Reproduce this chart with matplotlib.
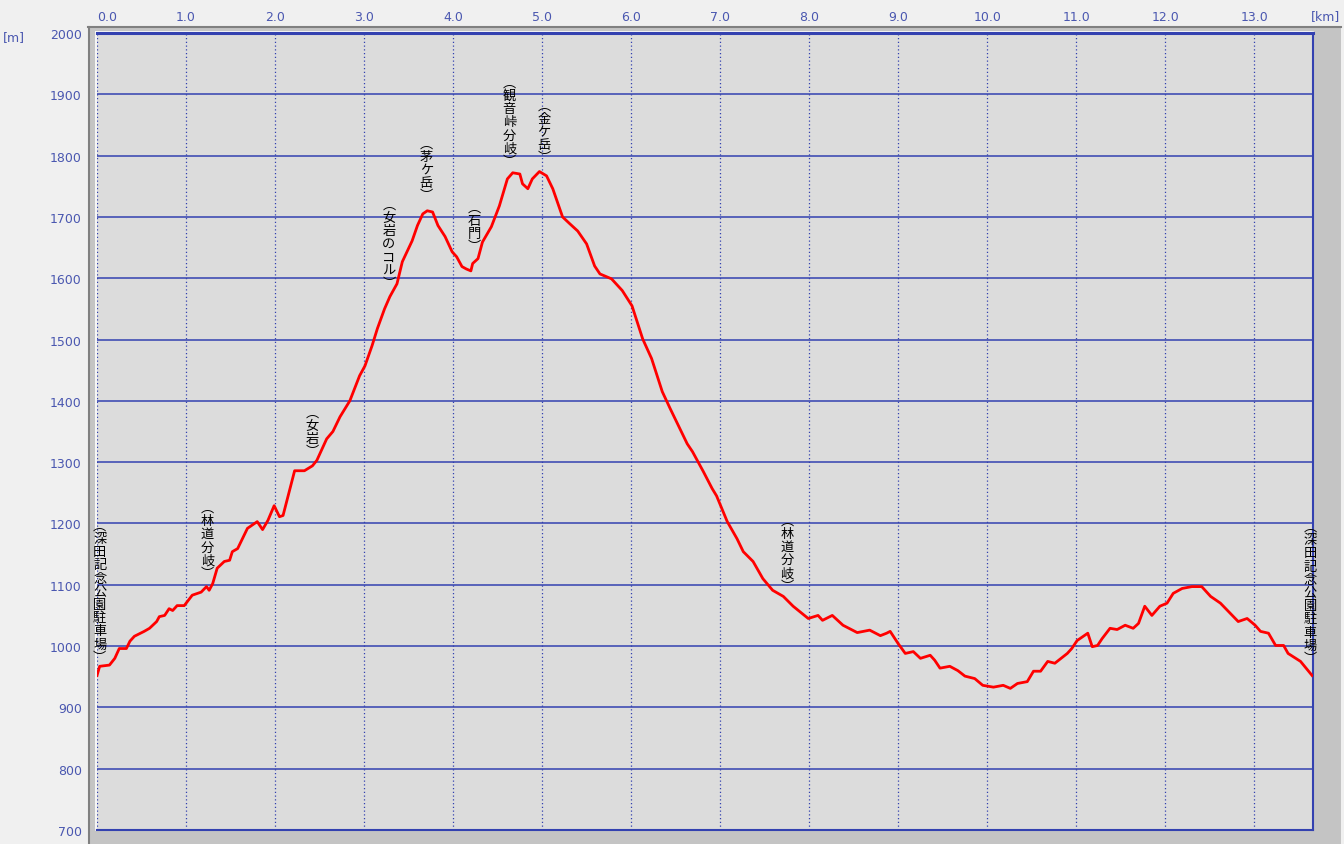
import matplotlib
matplotlib.use("Agg")
import matplotlib.pyplot as plt
from matplotlib.patches import Rectangle
from matplotlib.lines import Line2D

dist_km = [0.00, 0.03, 0.14, 0.20, 0.25, 0.33, 0.37, 0.42, 0.53, 0.59, 0.67, 0.70, 0.76,
           0.81, 0.85, 0.90, 0.98, 1.07, 1.17, 1.23, 1.26, 1.30, 1.35, 1.43, 1.49, 1.52,
           1.58, 1.62, 1.69, 1.80, 1.86, 1.92, 1.99, 2.05, 2.09, 2.16, 2.22, 2.33, 2.42,
           2.47, 2.53, 2.58, 2.65, 2.73, 2.84, 2.95, 3.01, 3.09, 3.15, 3.23, 3.29, 3.37,
           3.43, 3.54, 3.60, 3.66, 3.71, 3.77, 3.83, 3.91, 3.99, 4.04, 4.10, 4.15, 4.20,
           4.22, 4.28, 4.33, 4.43, 4.52, 4.61, 4.67, 4.75, 4.78, 4.84, 4.89, 4.97, 5.05,
           5.12, 5.23, 5.31, 5.40, 5.50, 5.59, 5.65, 5.78, 5.90, 6.01, 6.13, 6.23, 6.35,
           6.44, 6.53, 6.63, 6.69, 6.81, 6.91, 6.96, 7.08, 7.19, 7.26, 7.37, 7.48, 7.59,
           7.71, 7.82, 7.99, 8.10, 8.15, 8.26, 8.38, 8.54, 8.68, 8.80, 8.87, 8.91, 9.00,
           9.08, 9.17, 9.25, 9.36, 9.41, 9.47, 9.58, 9.67, 9.75, 9.86, 9.95, 10.07, 10.18,
           10.26, 10.34, 10.45, 10.52, 10.60, 10.68, 10.76, 10.90, 10.95, 11.01, 11.13,
           11.18, 11.24, 11.29, 11.38, 11.46, 11.55, 11.64, 11.70, 11.77, 11.85, 11.94,
           12.02, 12.09, 12.19, 12.30, 12.41, 12.51, 12.62, 12.70, 12.82, 12.92, 13.01,
           13.07, 13.16, 13.24, 13.33, 13.38, 13.52, 13.65]
elev_m = [952, 967, 969, 980, 996, 996, 1008, 1016, 1024, 1029, 1040, 1048, 1050,
          1061, 1058, 1066, 1066, 1083, 1088, 1097, 1091, 1102, 1127, 1138, 1140, 1154,
          1159, 1171, 1192, 1203, 1190, 1205, 1229, 1211, 1213, 1252, 1286, 1286, 1294,
          1303, 1322, 1338, 1350, 1374, 1400, 1441, 1457, 1490, 1518, 1550, 1570, 1591,
          1627, 1661, 1686, 1705, 1710, 1708, 1686, 1668, 1643, 1635, 1619, 1615, 1612,
          1624, 1632, 1659, 1684, 1718, 1762, 1772, 1770, 1754, 1746, 1762, 1774, 1767,
          1746, 1700, 1689, 1677, 1656, 1620, 1607, 1599, 1580, 1555, 1501, 1469, 1415,
          1387, 1360, 1330, 1317, 1285, 1257, 1245, 1203, 1175, 1154, 1138, 1110, 1091,
          1081, 1065, 1045, 1050, 1042, 1050, 1034, 1022, 1026, 1017, 1021, 1024, 1004,
          988, 991, 980, 985, 977, 964, 967, 960, 951, 947, 936, 933, 936,
          931, 939, 942, 959, 959, 975, 972, 988, 996, 1009, 1021,
          999, 1001, 1012, 1029, 1027, 1034, 1029, 1037, 1065, 1050, 1065,
          1070, 1086, 1094, 1097, 1097, 1081, 1070, 1058, 1040, 1045, 1034,
          1024, 1021, 1001, 1001, 988, 975, 952]

label_names = ["深田記念公園駐車場", "林道分岐", "女岩", "女岩のコル", "茅ケ岳", "石門",
               "観音峠分岐", "金ケ岳", "林道分岐", "深田記念公園駐車場"]
label_km = [0.03, 1.24, 2.42, 3.28, 3.70, 4.24, 4.63, 5.02, 7.75, 13.63]
label_base_m = [971, 1108, 1307, 1581, 1724, 1641, 1780, 1786, 1087, 969]

x_ticks = [0, 1, 2, 3, 4, 5, 6, 7, 8, 9, 10, 11, 12, 13]
x_tick_labels = ["%.1f" % v for v in x_ticks]
y_ticks = [700, 800, 900, 1000, 1100, 1200, 1300, 1400, 1500, 1600, 1700, 1800, 1900, 2000]

W, H = 1344, 845
fig = plt.figure(figsize=(W / 100, H / 100), dpi=100)
fig.patch.set_facecolor("#f0f0f0")

blue = "#3341b0"
tblue = "#4a57b0"

# outer 3D panel
fig.patches.append(Rectangle((88 / W, 0), (1341 - 88) / W, (H - 27) / H,
                             transform=fig.transFigure, facecolor="#c4c4c4",
                             edgecolor="none", zorder=-3))
fig.lines.append(Line2D([88.5 / W, 88.5 / W], [0, 1 - 27.5 / H], transform=fig.transFigure,
                        color="#808080", lw=1.5, zorder=-2))
fig.lines.append(Line2D([88 / W, 1341 / W], [1 - 27.5 / H, 1 - 27.5 / H], transform=fig.transFigure,
                        color="#808080", lw=1.5, zorder=-2))
fig.lines.append(Line2D([95.5 / W, 95.5 / W], [1 - 831 / H, 1 - 33 / H], transform=fig.transFigure,
                        color="white", lw=1.2, zorder=-2))
fig.lines.append(Line2D([95.5 / W, 1313 / W], [1 - 32.5 / H, 1 - 32.5 / H], transform=fig.transFigure,
                        color="white", lw=1.2, zorder=-2))

ax = fig.add_axes([97 / W, 1 - 831 / H, (1313 - 97) / W, (831 - 34) / H])
ax.set_zorder(1)
ax.set_facecolor("#dcdcdc")
ax.set_xlim(0, 13.66)
ax.set_ylim(700, 2000)

for y in y_ticks:
    ax.axhline(y, color=blue, lw=1.1, zorder=1)
for x in x_ticks:
    ax.axvline(x, color=blue, lw=0.9, linestyle=(0, (1, 2)), zorder=1)

ax.plot(dist_km, elev_m, color="#ff0000", lw=2.0, zorder=3, solid_joinstyle="round")

ax.set_xticks(x_ticks)
ax.set_xticklabels(x_tick_labels)
ax.set_yticks(y_ticks)
ax.set_yticklabels([str(v) for v in y_ticks])
ax.tick_params(axis="x", top=True, labeltop=True, bottom=False, labelbottom=False,
               length=0, pad=7, labelsize=9, labelcolor=tblue)
ax.tick_params(axis="y", left=True, length=0, pad=11, labelsize=9, labelcolor=tblue)
xl = ax.get_xticklabels()
xl[0].set_horizontalalignment("left")

for s in ["top"]:
    ax.spines[s].set_color(blue)
    ax.spines[s].set_linewidth(2.2)
for s in ["right", "bottom"]:
    ax.spines[s].set_color(blue)
    ax.spines[s].set_linewidth(1.5)
ax.spines["left"].set_visible(False)

fig.text(1340 / W, 1 - 17 / H, "[km]", ha="right", va="center", fontsize=9, color=tblue)
fig.text(3 / W, 1 - 38 / H, "[m]", ha="left", va="center", fontsize=9, color=tblue)

for name, km, base in zip(label_names, label_km, label_base_m):
    s = "\n".join(["︵"] + list(name) + ["︶"])
    ax.text(km, base, s, ha="center", va="bottom", fontsize=9.5, linespacing=1.02,
            family=["Noto Sans CJK JP", "DejaVu Sans"], color="black", zorder=4,
            multialignment="center")

fig.savefig("out.png", dpi=100, facecolor=fig.get_facecolor())
